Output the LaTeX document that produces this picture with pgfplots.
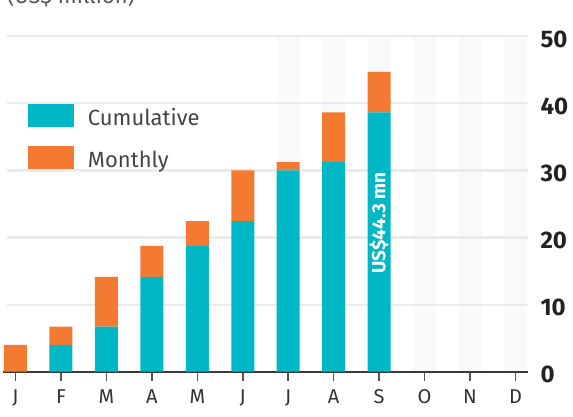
\documentclass[border=0pt]{standalone}
\usepackage{pgfplots}
\pgfplotsset{compat=1.18}
\usepackage{fontspec}
\setmainfont{Fira Sans}
\definecolor{cumcol}{HTML}{00B7C6}
\definecolor{moncol}{HTML}{F47A32}
\definecolor{gridc}{HTML}{EBEBEB}
\definecolor{bandc}{HTML}{F9F9F9}
\definecolor{axisc}{HTML}{3A3A3A}
\definecolor{tickc}{HTML}{555555}
\definecolor{xtc}{HTML}{333333}
\definecolor{ytc}{HTML}{222222}
\definecolor{legc}{HTML}{444444}
\definecolor{titlec}{HTML}{555555}
\pgfplotsset{
  frame/.style={
    at={(0pt,0pt)}, anchor=south west,
    scale only axis, width=525pt, height=335.5pt,
    xmin=-0.275, xmax=11.276, ymin=0, ymax=50,
    enlargelimits=false, clip=false,
  }
}
\begin{document}
\begin{tikzpicture}
% background: shaded months and gridlines
\begin{axis}[frame, hide axis]
\fill[bandc] (axis cs:5.747,0) rectangle (axis cs:6.253,50);
\fill[bandc] (axis cs:6.747,0) rectangle (axis cs:7.253,50);
\fill[bandc] (axis cs:7.747,0) rectangle (axis cs:8.253,50);
\fill[bandc] (axis cs:8.747,0) rectangle (axis cs:9.253,50);
\fill[bandc] (axis cs:9.747,0) rectangle (axis cs:10.253,50);
\fill[bandc] (axis cs:10.747,0) rectangle (axis cs:11.253,50);
\pgfplotsinvokeforeach{10,20,30,40,50}{
  \draw[gridc, line width=2.2pt] (axis cs:-0.187,#1) -- (axis cs:11.276,#1);
}
\end{axis}
% bars
\begin{axis}[
  frame,
  ybar stacked, bar width=23pt,
  axis x line*=bottom, axis y line*=right,
  x axis line style={draw=axisc, line width=2pt},
  y axis line style={draw=none},
  xtick={0,...,11}, xticklabels={J,F,M,A,M,J,J,A,S,O,N,D},
  ytick={0,10,...,50},
  tick align=outside,
  major tick length=9pt,
  xtick style={draw=tickc, line width=1.5pt},
  ytick style={draw=none},
  /pgf/number format/assume math mode=true,
  yticklabel style={font=\bfseries\fontsize{24}{28}\selectfont, text=ytc, yshift=-3pt},
  xticklabel style={font=\fontsize{20}{24}\selectfont, text=xtc, anchor=base, yshift=-23pt},
  legend style={at={(0.0476,0.798)}, anchor=north west, draw=none, fill=none,
    inner sep=0pt, outer sep=0pt, row sep=19pt, column sep=14pt,
    font=\fontsize{22}{26}\selectfont, text=legc,
    cells={anchor=base west}, nodes={inner sep=0pt}},
  legend image code/.code={\fill[#1] (0pt,-1.3pt) rectangle (46pt,21.7pt);},
]
\addplot[fill=cumcol, draw=none] coordinates {
  (0,0) (1,4.0) (2,6.7) (3,14.15) (4,18.75) (5,22.45) (6,30.0) (7,31.25) (8,38.65)};
\addlegendentry{Cumulative}
\addplot[fill=moncol, draw=none] coordinates {
  (0,4.0) (1,2.7) (2,7.45) (3,4.6) (4,3.7) (5,7.55) (6,1.25) (7,7.4) (8,6.05)};
\addlegendentry{Monthly}
\end{axis}
% annotation on top of the September bar
\begin{axis}[frame, hide axis]
\node[rotate=90, text=white, inner sep=0pt, font=\bfseries\fontsize{19}{22}\selectfont] at (axis cs:8,22.16) {US\$44.3 mn};
\end{axis}
\node[anchor=base west, inner sep=0pt, text=titlec, font=\fontsize{22}{26}\selectfont] at (4pt,368.4pt) {(US\$ million)};
\pgfresetboundingbox
\path[use as bounding box] (-3pt,-44.3pt) rectangle (570pt,371.7pt);
\end{tikzpicture}
\end{document}
